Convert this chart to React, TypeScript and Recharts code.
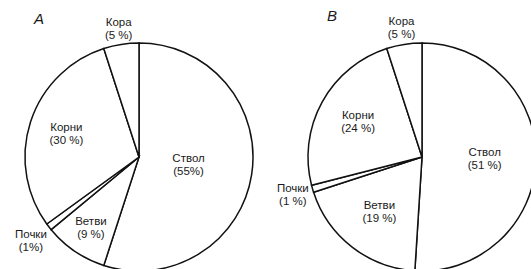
import { PieChart, Pie, Cell } from 'recharts';

const parts = ['Ствол', 'Ветви', 'Почки', 'Корни', 'Кора'];

const valuesA = [55, 9, 1, 30, 5];
const percentLabelsA = ['(55%)', '(9 %)', '(1%)', '(30 %)', '(5 %)'];

const valuesB = [51, 19, 1, 24, 5];
const percentLabelsB = ['(51 %)', '(19 %)', '(1 %)', '(24 %)', '(5 %)'];

// label distance from the centre, as a share of the radius
const LABEL_DIST_A = [0.44, 0.75, 1.2, 0.67, 1.14];
const LABEL_DIST_B = [0.55, 0.61, 1.18, 0.64, 1.15];

const RADIAN = Math.PI / 180;
const STROKE = '#111';
const FONT = '"Liberation Sans", Arial, sans-serif';

const dataA = parts.map((name, i) => ({ name, value: valuesA[i], pct: percentLabelsA[i] }));
const dataB = parts.map((name, i) => ({ name, value: valuesB[i], pct: percentLabelsB[i] }));

function makeLabel(dist: number[]) {
  return (props: any) => {
    const { cx, cy, midAngle, outerRadius, index, payload } = props;
    const r = outerRadius * dist[index];
    const x = cx + r * Math.cos(-midAngle * RADIAN);
    const y = cy + r * Math.sin(-midAngle * RADIAN);
    const item = payload?.payload ?? payload;
    return (
      <text x={x} y={y} textAnchor="middle" fill="#1a1a1a" fontSize={11.5} fontFamily={FONT}>
        <tspan x={x} y={y - 2.5}>{item.name}</tspan>
        <tspan x={x} y={y + 10.5}>{item.pct}</tspan>
      </text>
    );
  };
}

export default function App() {
  return (
    <div style={{ position: 'absolute', left: 0, top: 0, width: 531, height: 269, background: '#fff', overflow: 'hidden' }}>
      <PieChart width={531} height={269} margin={{ top: 0, right: 0, bottom: 0, left: 0 }}>
        <Pie
          data={dataA}
          dataKey="value"
          cx={139}
          cy={157}
          outerRadius={114}
          startAngle={90}
          endAngle={-270}
          stroke={STROKE}
          strokeWidth={1.5}
          labelLine={false}
          label={makeLabel(LABEL_DIST_A)}
          isAnimationActive={false}
        >
          {dataA.map((d) => (
            <Cell key={d.name} fill="#fff" />
          ))}
        </Pie>
        <Pie
          data={dataB}
          dataKey="value"
          cx={422}
          cy={157}
          outerRadius={114}
          startAngle={90}
          endAngle={-270}
          stroke={STROKE}
          strokeWidth={1.5}
          labelLine={false}
          label={makeLabel(LABEL_DIST_B)}
          isAnimationActive={false}
        >
          {dataB.map((d) => (
            <Cell key={d.name} fill="#fff" />
          ))}
        </Pie>
      </PieChart>
      <div style={{ position: 'absolute', left: 34, top: 10, fontSize: 15, fontStyle: 'italic', fontFamily: FONT, color: '#1a1a1a' }}>
        A
      </div>
      <div style={{ position: 'absolute', left: 327, top: 7, fontSize: 15, fontStyle: 'italic', fontFamily: FONT, color: '#1a1a1a' }}>
        B
      </div>
    </div>
  );
}
